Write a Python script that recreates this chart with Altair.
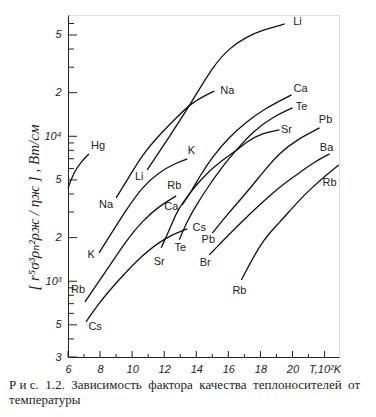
import altair as alt
import pandas as pd

# ---- curves (x: T, 10^2 K ; y: quality factor, W/cm) ----
hg_x = [6.0, 6.375, 6.81, 7.31]
hg_y = [4400, 5680, 6650, 7550]
na_x = [9.0, 9.81, 10.625, 11.69, 12.75, 13.69, 14.625, 15.125]
na_y = [3760, 5240, 7430, 10210, 13390, 16980, 19290, 20550]
li_x = [10.94, 12.31, 13.69, 15.0, 16.06, 17.125, 18.125, 19.5]
li_y = [5860, 9900, 16980, 30060, 40640, 48450, 54050, 59550]
k_x = [7.94, 8.56, 9.625, 10.625, 11.69, 12.75, 13.44]
k_y = [1570, 2020, 3100, 4470, 5680, 6550, 6980]
rb1_x = [7.06, 8.56, 9.625, 10.625, 11.69, 12.75]
rb1_y = [721, 1260, 1900, 2600, 3300, 3880]
cs_x = [7.125, 7.94, 9.0, 10.625, 12.125, 13.44]
cs_y = [525, 710, 975, 1520, 2020, 2300]
sr_x = [11.81, 12.19, 12.75, 13.125, 14.375, 15.625, 16.56, 17.125, 18.125, 19.19]
sr_y = [1700, 2090, 2960, 3470, 5240, 6870, 8050, 9140, 10550, 11070]
te_x = [12.94, 13.375, 14.0, 14.81, 15.56, 16.5, 17.5, 18.75, 20.0]
te_y = [1930, 2530, 3360, 4610, 6050, 8050, 10720, 13600, 15690]
ca_x = [13.125, 13.75, 14.19, 15.0, 16.06, 17.125, 18.125, 19.94]
ca_y = [3360, 4270, 5240, 7210, 9900, 12560, 15200, 19290]
pb_x = [15.0, 16.06, 17.125, 18.125, 19.19, 20.25, 21.69]
pb_y = [2150, 3000, 4070, 5590, 7680, 9440, 11420]
ba_x = [14.81, 16.69, 18.94, 20.25, 21.25, 22.31]
ba_y = [1520, 2490, 4270, 5410, 6550, 7555]
rb2_x = [16.81, 18.125, 19.19, 20.25, 21.25, 22.125, 22.875]
rb2_y = [1020, 1930, 2530, 3470, 4470, 5410, 6340]

# ---- curve labels ----
label_text = ["Hg", "Na", "Na", "Li", "Li", "K", "K", "Rb", "Rb", "Ca", "Ca",
              "Cs", "Cs", "Sr", "Sr", "Te", "Te", "Pb", "Pb", "Br", "Ba", "Rb", "Rb"]
label_x = [7.875, 8.375, 15.94, 10.44, 20.31, 7.44, 13.69, 6.625, 12.625, 12.44, 20.5,
           14.19, 7.69, 11.69, 19.625, 13.0, 20.56, 14.75, 22.06, 14.56, 22.125, 16.69, 22.31]
label_y = [8570, 3360, 20550, 5240, 61500, 1520, 7930, 871, 4550, 3260, 21220,
           2330, 484, 1360, 11070, 1700, 15920, 1930, 12970, 1340, 8310, 857, 4770]

# ---- axes ----
y_tick_values = [300, 500, 1000, 2000, 5000, 10000, 20000, 50000]
y_tick_labels = ["3", "5", "10³", "2", "5", "10⁴", "2", "5"]
y_minor_values = [400, 600, 700, 800, 900, 3000, 4000, 6000, 7000, 8000, 9000,
                  30000, 40000, 60000]
x_tick_values = [6, 8, 10, 12, 14, 16, 18, 20, 22]
x_tick_labels = ["6", "8", "10", "12", "14", "16", "18", "20", "T,10²K"]
x_minor_values = [7, 9, 11, 13, 15, 17, 19, 21]
y_title = "[ r⁵σ³ρₙ²ρж / ηж ] ,  Вт/см"
caption_words = ["Р и с.", "1.2.", "Зависимость", "фактора", "качества", "теплоносителей", "от"]
caption = [" \u00a0".join(caption_words), "температуры"]
SERIF = "Liberation Serif, DejaVu Serif, serif"

curves = {"Hg": (hg_x, hg_y), "Na": (na_x, na_y), "Li": (li_x, li_y), "K": (k_x, k_y),
          "Rb1": (rb1_x, rb1_y), "Cs": (cs_x, cs_y), "Sr": (sr_x, sr_y), "Te": (te_x, te_y),
          "Ca": (ca_x, ca_y), "Pb": (pb_x, pb_y), "Ba": (ba_x, ba_y), "Rb2": (rb2_x, rb2_y)}
rows = []
for name, (xs, ys) in curves.items():
    for i, (a, b) in enumerate(zip(xs, ys)):
        rows.append({"curve": name, "order": i, "x": a, "y": b})
lines_df = pd.DataFrame(rows)
labels_df = pd.DataFrame({"x": label_x, "y": label_y, "t": label_text})


def lookup_expr(vals, labs):
    expr = "''"
    for v, l in reversed(list(zip(vals, labs))):
        expr = f"datum.value == {v} ? '{l}' : ({expr})"
    return expr


W, H = 271, 342
xscale = alt.Scale(domain=[6, 22.9], nice=False, zero=False)
yscale = alt.Scale(type="log", domain=[300, 68700], nice=False)

xaxis = alt.Axis(values=x_tick_values, labelExpr=lookup_expr(x_tick_values, x_tick_labels),
                 ticks=False, grid=False, title=None, labelPadding=6,
                 labelFont="Liberation Sans", labelFontStyle="italic", labelFontSize=11,
                 labelColor="#222", domainColor="#222", labelFlush=False, labelOverlap=False)
yaxis = alt.Axis(values=y_tick_values, labelExpr=lookup_expr(y_tick_values, y_tick_labels),
                 ticks=False, grid=False, title=y_title, labelPadding=7,
                 labelFont="Liberation Sans", labelFontStyle="italic", labelFontSize=11,
                 labelColor="#222", domainColor="#222", labelFlush=False, labelOverlap=False,
                 titleFont=SERIF, titleFontStyle="italic", titleFontSize=15,
                 titleFontWeight="normal", titleColor="#222", titleX=-35, titleY=192,
                 titleAngle=-90, titleAlign="center", titleBaseline="middle")

X = alt.X("x:Q", scale=xscale, axis=xaxis)
Y = alt.Y("y:Q", scale=yscale, axis=yaxis)

lines = alt.Chart(lines_df).mark_line(color="#111", strokeWidth=1.3, interpolate="basis").encode(
    x=X, y=Y, detail="curve:N", order="order:Q")
labels = alt.Chart(labels_df).mark_text(font="Liberation Sans", fontSize=11, color="#222").encode(
    x=X, y=Y, text="t:N")

ymaj = alt.Chart(pd.DataFrame({"y": y_tick_values})).mark_rule(color="#222").encode(
    y=Y, x=alt.value(0), x2=alt.value(9))
ymin = alt.Chart(pd.DataFrame({"y": y_minor_values})).mark_rule(color="#222").encode(
    y=Y, x=alt.value(0), x2=alt.value(6))
xmaj = alt.Chart(pd.DataFrame({"x": x_tick_values})).mark_rule(color="#222").encode(
    x=X, y=alt.value(H), y2=alt.value(H - 6))
xmin = alt.Chart(pd.DataFrame({"x": x_minor_values})).mark_rule(color="#222").encode(
    x=X, y=alt.value(H), y2=alt.value(H - 3))

chart = alt.layer(lines, labels, ymaj, ymin, xmaj, xmin).properties(
    width=W, height=H,
    title=alt.TitleParams(text=caption, orient="bottom", anchor="start", frame="group",
                          align="left", dx=-59, offset=5,
                          font=SERIF, fontSize=13, fontWeight="normal",
                          color="#222", lineHeight=15),
    autosize=alt.AutoSizeParams(type="none"),
    padding={"left": 60, "top": 7, "right": 29, "bottom": 59},
).configure_view(stroke="#222", strokeWidth=1.2).configure(background="white")

chart.save("out.html", embed_options={"renderer": "svg", "actions": False})
